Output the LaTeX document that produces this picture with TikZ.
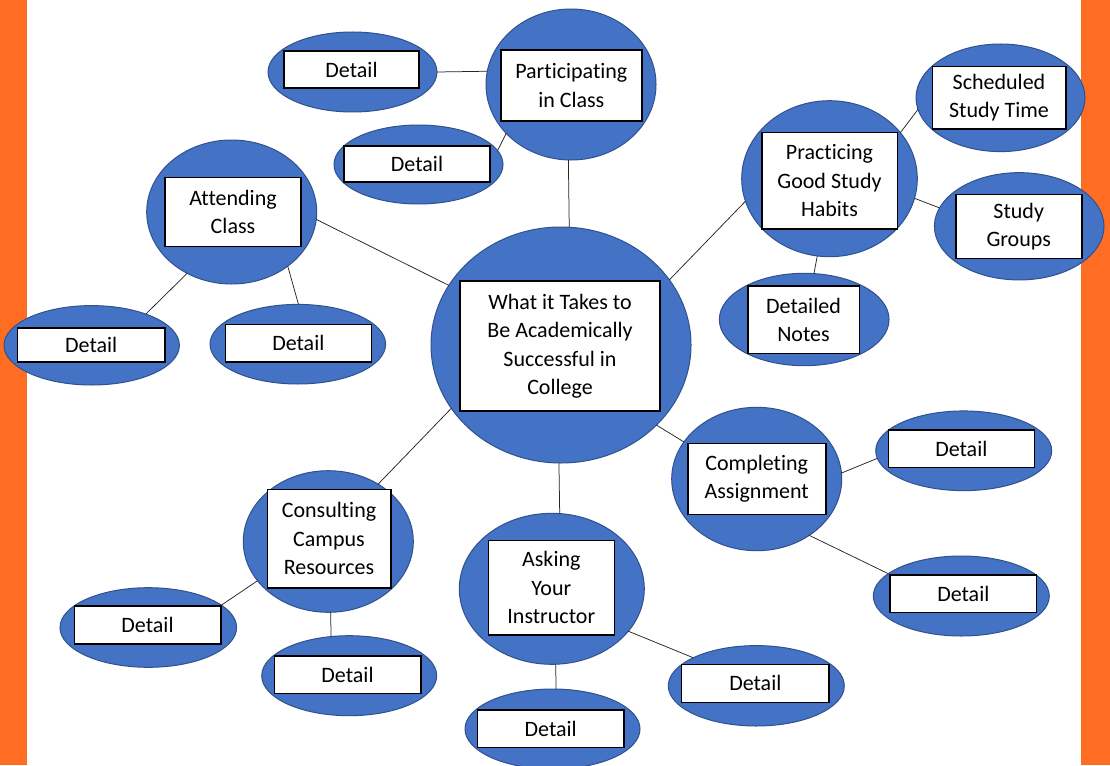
\documentclass[tikz,border=0pt]{standalone}
\usepackage{fontspec}
\setmainfont{Carlito}[Ligatures=NoCommon]
\usetikzlibrary{shapes.geometric}
\definecolor{orbar}{HTML}{FF6D22}
\definecolor{bubfill}{HTML}{4472C4}
\definecolor{bubline}{HTML}{2F528F}
\tikzset{
  bub/.style={ellipse, fill=bubfill, draw=bubline, line width=1pt, inner sep=0pt, outer sep=0pt},
  lbl/.style={rectangle, fill=white, draw=black, line width=1.6pt, inner sep=0pt, outer sep=0pt,
    align=center, font=\fontsize{22}{28.5}\selectfont},
  conn/.style={draw=black!85, line width=0.75pt}
}
\newcommand{\bubble}[6]{%
  \node[bub, minimum width=#4pt, minimum height=#5pt] (#1) at (#2,#3) {};}
\newcommand{\labelbox}[6]{%
  \node[lbl, minimum width=#4pt, minimum height=#5pt] (#1) at (#2,#3) {#6};}
\begin{document}
\begin{tikzpicture}[x=1pt,y=-1pt]
\useasboundingbox (0,0) rectangle (1110,765);
\fill[white] (0,0) rectangle (1110,765);
\fill[orbar] (0,0) rectangle (27,765);
\fill[orbar] (1081,0) rectangle (1110,765);

% bubbles
\bubble{e0}{561}{345}{260}{236}{}
\bubble{eP}{571}{84.5}{170}{151}{}
\bubble{eP1}{352.5}{72}{169}{80}{}
\bubble{eP2}{418.5}{164.5}{169}{79}{}
\bubble{eA}{231.7}{212}{170}{144}{}
\bubble{eA1}{91.7}{345.3}{175.4}{79.4}{}
\bubble{eA2}{297.8}{344.2}{175.6}{79.6}{}
\bubble{eH}{829.5}{178.7}{175.6}{156}{}
\bubble{eH1}{1000.5}{97.8}{169}{107.6}{}
\bubble{eH2}{1019.2}{226.3}{169.6}{107.3}{}
\bubble{eH3}{804.2}{319.5}{169.7}{92.4}{}
\bubble{eC}{756.7}{479}{170}{143.4}{}
\bubble{eC1}{963.7}{450.8}{176}{79.7}{}
\bubble{eC2}{961.3}{596}{176}{80}{}
\bubble{eQ}{551.8}{588.8}{185}{151}{}
\bubble{eQ1}{552.5}{729}{175}{80}{}
\bubble{eQ2}{756.3}{685.8}{176}{80.4}{}
\bubble{eR}{328.3}{541.5}{170}{141.6}{}
\bubble{eR1}{148.3}{627.5}{176.6}{79.6}{}
\bubble{eR2}{349.2}{675.7}{175}{80}{}

% connectors
\draw[conn] (eP1.0) -- (eP.171.5);
\draw[conn] (eP2.10.3) -- (eP.217.8);
\draw[conn] (eP.268) -- (e0.86);
\draw[conn] (eA.355.3) -- (e0.152.8);
\draw[conn] (eA.234.3) -- (eA1.30.2);
\draw[conn] (eA.316) -- (eA2.89.3);
\draw[conn] (eH.195.9) -- (e0.31.1);
\draw[conn] (eH.33.7) -- (eH1.188.3);
\draw[conn] (eH.347.1) -- (eH2.167.8);
\draw[conn] (eH.261.2) -- (eH3.78.8);
\draw[conn] (e0.320) -- (eC.153.1);
\draw[conn] (eC.4.2) -- (eC1.185.6);
\draw[conn] (eC.313.6) -- (eC2.163.2);
\draw[conn] (e0.269) -- (eQ.84.6);
\draw[conn] (eQ.273) -- (eQ1.85.4);
\draw[conn] (eQ.331.1) -- (eQ2.156.5);
\draw[conn] (e0.210) -- (eR.49.3);
\draw[conn] (eR.209.4) -- (eR1.17.4);
\draw[conn] (eR.272.2) -- (eR2.115);

% labels
\labelbox{r0}{560}{346}{200}{130}{What it Takes to\\Be Academically\\Successful in\\College}
\labelbox{rP}{571.3}{85.5}{141}{71}{Participating\\in Class}
\labelbox{rP1}{351.5}{69.5}{135}{37}{Detail}
\labelbox{rP2}{417}{164}{146}{36.5}{Detail}
\labelbox{rA}{233}{212}{136}{69}{Attending\\Class}
\labelbox{rA1}{91.2}{345.2}{147.7}{34}{Detail}
\labelbox{rA2}{298.3}{343.2}{146}{37.7}{Detail}
\labelbox{rH}{829.5}{180.8}{135.6}{96.3}{Practicing\\Good Study\\Habits}
\labelbox{rH1}{999}{97.8}{133.4}{62.3}{Scheduled\\Study Time}
\labelbox{rH2}{1018.7}{226.5}{126}{64.3}{Study\\Groups}
\labelbox{rH3}{803.5}{319.7}{111.6}{67.3}{Detailed\\Notes}
\labelbox{rC}{756.7}{478.8}{138}{71}{Completing\\Assignment}
\labelbox{rC1}{961.3}{448.7}{146}{37.3}{Detail}
\labelbox{rC2}{963.3}{593.8}{146.7}{37.7}{Detail}
\labelbox{rQ}{551.3}{587.8}{126}{94.3}{Asking\\Your\\Instructor}
\labelbox{rQ1}{550.7}{728.8}{146.7}{37.7}{Detail}
\labelbox{rQ2}{755.3}{683.3}{147.3}{38}{Detail}
\labelbox{rR}{329}{538.5}{123.4}{98.4}{Consulting\\Campus\\Resources}
\labelbox{rR1}{147.5}{625}{146.4}{38}{Detail}
\labelbox{rR2}{347.5}{674.7}{146.4}{37.3}{Detail}
\end{tikzpicture}
\end{document}
